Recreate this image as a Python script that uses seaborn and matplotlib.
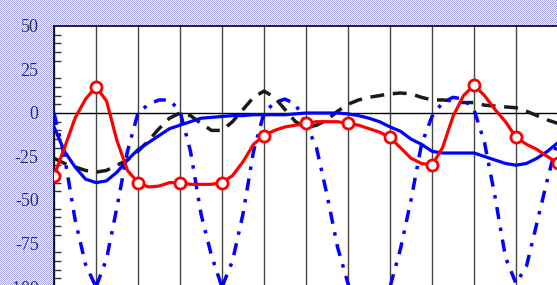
import numpy as np
import pandas as pd
import matplotlib
matplotlib.use("Agg")
import matplotlib.pyplot as plt
import seaborn as sns

# x positions (quarter steps from 0 to 12)
x_vals = [i * 0.25 for i in range(49)]

red_vals = [-36, -20, -3, 8, 15, 7, -16, -33,
            -40, -42.5, -42, -40, -40, -41, -41, -41,
            -40, -36, -28, -18, -13, -10, -8, -7,
            -6, -5, -5, -5, -6, -7, -9, -11,
            -14, -20, -26, -29, -30, -20, -2, 10,
            16, 10, 2, -5, -14, -18, -21, -25, -29]

blue_solid_vals = [-8, -22, -31, -38, -40, -39, -34, -27,
                   -21, -17, -13, -9, -7, -5, -3, -2.5,
                   -2, -1.5, -1.5, -1, -1, -1, -1, -0.5,
                   0, 0, 0, 0, -0.5, -1.5, -3, -5,
                   -8, -10.5, -15, -18, -22, -23, -23, -23,
                   -23, -25, -27, -29, -30, -29, -26, -22, -17]

blue_dashdot_vals = [0, -25, -61, -87, -100, -84, -54, -22,
                     0, 5, 7.5, 7.5, 1, -22, -58, -82,
                     -100, -85, -58, -22, 0, 6, 8, 5,
                     -6, -20, -47, -77, -98, -115, -125, -115,
                     -100, -78, -50, -18, -2, 6, 9, 8,
                     2, -17, -48, -83, -98, -88, -63, -38, -15]

black_dashed_vals = [-26, -29, -31, -33, -34, -33, -30, -27,
                     -22, -16, -9, -3, 0, -1.5, -6, -10,
                     -10, -5, 2, 9, 12.6, 9, 2, -5,
                     -8.5, -7, -4, 1, 5, 7.5, 9, 10,
                     11, 11.5, 11, 9, 7.5, 7.5, 7, 6,
                     6, 4.5, 4, 3.5, 3, 1, -1.5, -4, -6]

y_ticks = [-100, -75, -50, -25, 0, 25, 50]
y_tick_labels = ["-100", "-75", "-50", "-25", "0", "25", "50"]

df = pd.DataFrame({"x": x_vals, "red": red_vals, "blue": blue_solid_vals,
                   "dashdot": blue_dashdot_vals, "black": black_dashed_vals})

sns.set_style("white")
plt.rcParams['font.family'] = ['Liberation Serif', 'DejaVu Serif']

W, H = 557, 285
fig = plt.figure(figsize=(W / 100, H / 100), dpi=100)

# checkered blue background
yy, xx = np.mgrid[0:H, 0:W]
chk = ((xx + yy) % 2 == 0)
bg = np.ones((H, W, 3))
bg[chk] = np.array([0xa4, 0xa4, 0xf2]) / 255.0
fig.figimage(bg, xo=0, yo=0, zorder=-10)
fig.patch.set_alpha(0)

left = 54 / W
right = 558 / W
top = 1 - 26 / H
bottom = 1 - 287 / H
ax = fig.add_axes([left, bottom, right - left, top - bottom])
ax.set_facecolor("white")

ax.set_xlim(0, 12)
ax.set_ylim(-100, 50)

# grid: vertical lines at each integer, zero line
ax.set_xticks(range(0, 13))
ax.grid(axis="x", color="#444444", linewidth=1.0)
ax.grid(axis="y", visible=False)
ax.axhline(0, color="black", linewidth=1.0, zorder=1)

sns.lineplot(data=df, x="x", y="black", ax=ax, color="#1a1a1a", linewidth=2.5,
             dashes=False, linestyle=(0, (4, 2.5)), zorder=2)
sns.lineplot(data=df, x="x", y="dashdot", ax=ax, color="#0000ff", linewidth=2.5,
             linestyle=(0, (3.5, 2.5, 1, 2.5)), zorder=3)
sns.lineplot(data=df, x="x", y="blue", ax=ax, color="#0000ff", linewidth=2.3, zorder=4)
sns.lineplot(data=df, x="x", y="red", ax=ax, color="#ff0000", linewidth=2.3, zorder=5,
             marker="o", markevery=4, markersize=8, markerfacecolor="white",
             markeredgecolor="#ff0000", markeredgewidth=2)

ax.set_xlabel("")
ax.set_ylabel("")
ax.set_xticklabels([])
ax.tick_params(axis="x", length=0)

ax.set_yticks(y_ticks)
ax.set_yticklabels(y_tick_labels)
ax.set_yticks(np.arange(-100, 51, 5), minor=True)
ax.tick_params(axis="y", which="major", direction="in", length=6, width=1,
               color="#333333", labelsize=13, pad=11, labelcolor="#333333")
ax.tick_params(axis="y", which="minor", direction="in", length=5, width=1,
               color="#333333", left=True)

for s in ["left", "top", "right", "bottom"]:
    ax.spines[s].set_color("black")
    ax.spines[s].set_linewidth(1.2)

fig.savefig("out.png", dpi=100, facecolor=fig.get_facecolor())
